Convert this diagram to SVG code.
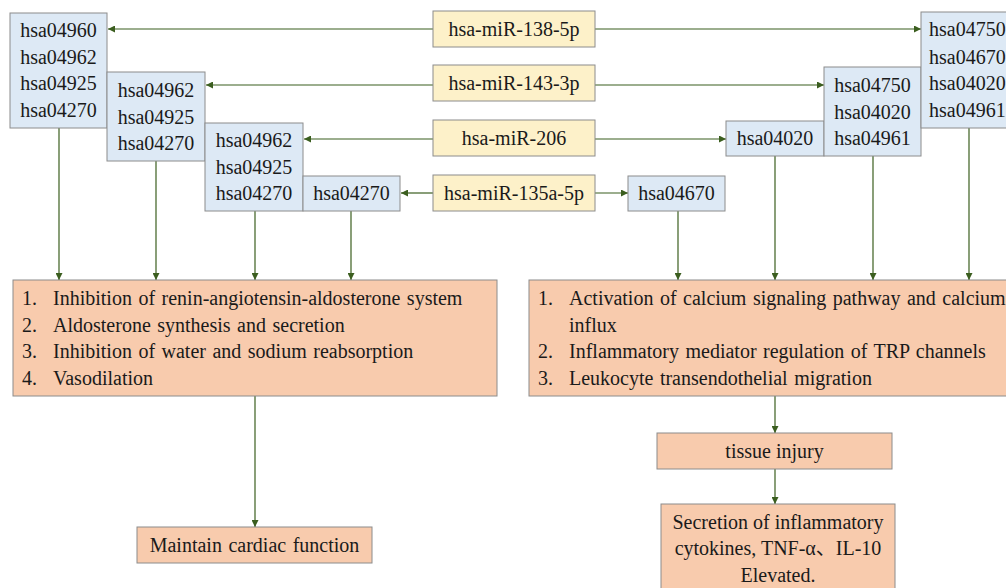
<svg xmlns="http://www.w3.org/2000/svg" width="1006" height="588" viewBox="0 0 1006 588">
<defs>
<marker id="ah" viewBox="0 0 10 10" refX="10" refY="5" markerWidth="7" markerHeight="7" markerUnits="userSpaceOnUse" orient="auto">
<path d="M0,0 L10,5 L0,10 z" fill="#3b5e1f"/>
</marker>
<style>
.blue{fill:#dde9f5;stroke:#8c8c8c;stroke-width:1}
.yel{fill:#fdf1c9;stroke:#8c8c8c;stroke-width:1}
.org{fill:#f8cbad;stroke:#8c8c8c;stroke-width:1}
.c{text-anchor:middle}
.w{word-spacing:1.5px}
.ln{stroke:#3b5e1f;stroke-width:1.2;fill:none;marker-end:url(#ah)}
</style>
</defs>
<rect width="1006" height="588" fill="#ffffff"/>

<g id="connectors">
<line class="ln" x1="433" y1="29" x2="108" y2="29"/>
<line class="ln" x1="433" y1="85" x2="206" y2="85"/>
<line class="ln" x1="433" y1="139" x2="304" y2="139"/>
<line class="ln" x1="433" y1="193" x2="401" y2="193"/>
<line class="ln" x1="595" y1="29" x2="921" y2="29"/>
<line class="ln" x1="595" y1="85" x2="824" y2="85"/>
<line class="ln" x1="595" y1="139" x2="726" y2="139"/>
<line class="ln" x1="595" y1="193" x2="628" y2="193"/>
<line class="ln" x1="59" y1="128" x2="59" y2="280"/>
<line class="ln" x1="156" y1="161" x2="156" y2="280"/>
<line class="ln" x1="255" y1="211" x2="255" y2="280"/>
<line class="ln" x1="351" y1="211" x2="351" y2="280"/>
<line class="ln" x1="678" y1="211" x2="678" y2="280"/>
<line class="ln" x1="775" y1="156" x2="775" y2="280"/>
<line class="ln" x1="873" y1="156" x2="873" y2="280"/>
<line class="ln" x1="969" y1="128" x2="969" y2="280"/>
<line class="ln" x1="255" y1="396" x2="255" y2="527"/>
<line class="ln" x1="775" y1="396" x2="775" y2="433"/>
<line class="ln" x1="775" y1="469" x2="775" y2="504"/>
</g>

<g font-family="Liberation Serif, 'Times New Roman', 'Noto Sans CJK SC', serif" font-size="20" fill="#1a1a1a">
<g id="mir138"><rect class="yel" x="433" y="11" width="162" height="36"/><text class="c" x="514" y="36">hsa-miR-138-5p</text></g>
<g id="mir143"><rect class="yel" x="433" y="65" width="162" height="36"/><text class="c" x="514" y="90">hsa-miR-143-3p</text></g>
<g id="mir206"><rect class="yel" x="433" y="120" width="162" height="36"/><text class="c" x="514" y="145">hsa-miR-206</text></g>
<g id="mir135"><rect class="yel" x="433" y="175" width="162" height="36"/><text class="c" x="514" y="200">hsa-miR-135a-5p</text></g>

<g id="left1"><rect class="blue" x="10" y="13" width="97" height="115"/>
<text class="c" x="58.5" y="37">hsa04960</text><text class="c" x="58.5" y="64">hsa04962</text><text class="c" x="58.5" y="90">hsa04925</text><text class="c" x="58.5" y="117">hsa04270</text></g>
<g id="left2"><rect class="blue" x="107" y="72" width="98" height="89"/>
<text class="c" x="156" y="97">hsa04962</text><text class="c" x="156" y="124">hsa04925</text><text class="c" x="156" y="150">hsa04270</text></g>
<g id="left3"><rect class="blue" x="205" y="123" width="98" height="88"/>
<text class="c" x="254" y="147">hsa04962</text><text class="c" x="254" y="174">hsa04925</text><text class="c" x="254" y="200">hsa04270</text></g>
<g id="left4"><rect class="blue" x="303" y="176" width="97" height="35"/>
<text class="c" x="351.5" y="200">hsa04270</text></g>

<g id="right4"><rect class="blue" x="628" y="176" width="97" height="35"/>
<text class="c" x="676.5" y="200">hsa04670</text></g>
<g id="right3"><rect class="blue" x="726" y="121" width="98" height="35"/>
<text class="c" x="775" y="145">hsa04020</text></g>
<g id="right2"><rect class="blue" x="824" y="67" width="97" height="89"/>
<text class="c" x="872.5" y="92">hsa04750</text><text class="c" x="872.5" y="119">hsa04020</text><text class="c" x="872.5" y="145">hsa04961</text></g>
<g id="right1"><rect class="blue" x="921" y="12" width="100" height="116"/>
<text x="929" y="36">hsa04750</text><text x="929" y="64">hsa04670</text><text x="929" y="90">hsa04020</text><text x="929" y="117">hsa04961</text></g>

<g id="effectsLeft"><rect class="org" x="13" y="280" width="484" height="116"/>
<text x="22" y="305">1.</text><text class="w" x="53" y="305">Inhibition of renin-angiotensin-aldosterone system</text>
<text x="22" y="332">2.</text><text class="w" x="53" y="332">Aldosterone synthesis and secretion</text>
<text x="22" y="358">3.</text><text class="w" x="53" y="358">Inhibition of water and sodium reabsorption</text>
<text x="22" y="385">4.</text><text class="w" x="53" y="385">Vasodilation</text></g>

<g id="effectsRight"><rect class="org" x="529" y="280" width="500" height="116"/>
<text x="538" y="305">1.</text><text class="w" x="569" y="305">Activation of calcium signaling pathway and calcium</text>
<text class="w" x="569" y="332">influx</text>
<text x="538" y="358">2.</text><text class="w" x="569" y="358">Inflammatory mediator regulation of TRP channels</text>
<text x="538" y="385">3.</text><text class="w" x="569" y="385">Leukocyte transendothelial migration</text></g>

<g id="cardiac"><rect class="org" x="137" y="527" width="235" height="36"/>
<text class="c w" x="254.5" y="552">Maintain cardiac function</text></g>

<g id="tissue"><rect class="org" x="657" y="433" width="235" height="36"/>
<text class="c" x="774.5" y="458">tissue injury</text></g>

<g id="secretion"><rect class="org" x="661" y="504" width="234" height="100"/>
<text class="c" x="778" y="529">Secretion of inflammatory</text>
<text class="c" x="778" y="555">cytokines, TNF-α、IL-10</text>
<text class="c" x="778" y="582">Elevated.</text></g>
</g>
</svg>
